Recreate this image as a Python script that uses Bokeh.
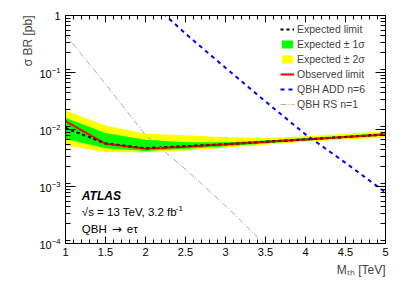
import numpy as np
from bokeh.plotting import figure
from bokeh.models import (Legend, LegendItem, Label, LinearAxis, LogAxis, Title,
                          FixedTicker, LogTicker, Range1d, CustomJSTickFormatter)
from bokeh.embed import file_html
from bokeh.resources import INLINE

# ---------------- data ----------------
mass = [1.0, 1.5, 2.0, 2.5, 3.0, 3.5, 4.0, 4.5, 5.0]  # TeV
observed = [0.0140, 0.0056, 0.0046, 0.0050, 0.0055, 0.0061, 0.0067, 0.0074, 0.0082]
expected = [0.0106, 0.0057, 0.0047, 0.0051, 0.0055, 0.0061, 0.0067, 0.0074, 0.0082]
exp_1s_up = [0.0160, 0.0087, 0.0066, 0.0060, 0.0060, 0.0064, 0.0071, 0.0078, 0.0087]
exp_1s_dn = [0.0068, 0.0047, 0.0042, 0.0046, 0.0051, 0.0057, 0.0064, 0.0071, 0.0078]
exp_2s_up = [0.0215, 0.0118, 0.0084, 0.0079, 0.0073, 0.0071, 0.0076, 0.0084, 0.0093]
exp_2s_dn = [0.0053, 0.0040, 0.0040, 0.0043, 0.0048, 0.0054, 0.0061, 0.0067, 0.0072]

add_mass = [2.0, 2.5, 3.0, 3.5, 4.0, 4.5, 5.0]
add_xsec = [2.1, 0.48, 0.121, 0.031, 0.0082, 0.0026, 0.00079]

rs_mass = [1.0, 1.5, 2.0, 2.5, 3.0, 3.5]
rs_xsec = [0.46, 0.063, 0.0080, 0.0020, 0.00046, 0.000095]

x_ticks = [1.0, 1.5, 2.0, 2.5, 3.0, 3.5, 4.0, 4.5, 5.0]
x_tick_labels = ["1", "1.5", "2", "2.5", "3", "3.5", "4", "4.5", "5"]

FONT = "Liberation Sans"

p = figure(width=398, height=284,
           x_range=Range1d(1, 5), y_range=Range1d(1e-4, 1),
           y_axis_type="log", output_backend="svg", toolbar_location=None,
           min_border_left=65, min_border_right=13, min_border_top=15,
           min_border_bottom=41)
p.grid.visible = False
p.outline_line_color = "black"
p.outline_line_width = 1
p.background_fill_color = "white"
p.border_fill_color = "white"

# bands and curves
r2 = p.varea(x=mass, y1=exp_2s_dn, y2=exp_2s_up, fill_color="#ffff00")
r1 = p.varea(x=mass, y1=exp_1s_dn, y2=exp_1s_up, fill_color="#00ff00")
rexp = p.line(mass, expected, line_color="black", line_width=2, line_dash="3 3")
robs = p.line(mass, observed, line_color="#ff0000", line_width=2)
p.line(mass, expected, line_color="black", line_width=2, line_dash="3 3", line_alpha=0.6)
radd = p.line(add_mass, add_xsec, line_color="#0000ff", line_width=2, line_dash="4 4")
rrs = p.line(rs_mass, rs_xsec, line_color="#aaaaaa", line_width=1, line_dash="6 2 1 2")

# axes
minor_x = [round(1 + 0.1 * i, 2) for i in range(41)]
xax = p.xaxis[0]
xax.ticker = FixedTicker(ticks=x_ticks, minor_ticks=minor_x)
xax.major_label_overrides = {t: l for t, l in zip([1, 1.5, 2, 2.5, 3, 3.5, 4, 4.5, 5], x_tick_labels)}
yax = p.yaxis[0]
yax.ticker = LogTicker(num_minor_ticks=9)
yax.major_label_overrides = {1: "1"}

for ax in (xax, yax):
    ax.major_tick_out = 0
    ax.minor_tick_out = 0
    ax.axis_line_color = "black"
    ax.major_tick_line_color = "black"
    ax.minor_tick_line_color = "black"
    ax.major_label_text_font = FONT
    ax.major_label_text_font_size = "11px"
    ax.major_label_text_color = "black"
xax.major_tick_in = 7
xax.minor_tick_in = 4
xax.major_label_standoff = 4
yax.major_tick_in = 10
yax.minor_tick_in = 5
yax.major_label_standoff = 5

blank = CustomJSTickFormatter(code="return ''")
top = LinearAxis(ticker=FixedTicker(ticks=x_ticks, minor_ticks=minor_x), formatter=blank,
                 major_tick_in=7, minor_tick_in=4, major_tick_out=0, minor_tick_out=0,
                 major_label_standoff=0, axis_line_color="black")
right = LogAxis(ticker=LogTicker(num_minor_ticks=9), formatter=blank,
                major_tick_in=10, minor_tick_in=5, major_tick_out=0, minor_tick_out=0,
                major_label_standoff=0, axis_line_color="black")
p.add_layout(top, "above")
p.add_layout(right, "right")

# axis titles, aligned to the axis ends (ROOT style)
p.add_layout(Title(text="\u03c3 BR [pb]", align="right", text_font=FONT,
                   text_font_size="12px", text_font_style="normal", standoff=4), "left")
p.add_layout(Title(text="M\u209c\u2095 [TeV]", align="right", text_font=FONT,
                   text_font_size="12px", text_font_style="normal", standoff=4), "below")

# legend
legend = Legend(items=[
    LegendItem(label="Expected limit", renderers=[rexp]),
    LegendItem(label="Expected \u00b1 1\u03c3", renderers=[r1]),
    LegendItem(label="Expected \u00b1 2\u03c3", renderers=[r2]),
    LegendItem(label="Observed limit", renderers=[robs]),
    LegendItem(label="QBH ADD n=6", renderers=[radd]),
    LegendItem(label="QBH RS n=1", renderers=[rrs]),
], location=(215, 133), background_fill_alpha=0, border_line_alpha=0,
    label_text_font=FONT, label_text_font_size="10.5px",
    glyph_width=14, glyph_height=10, label_height=10, spacing=3,
    label_standoff=3, padding=0, margin=0)
p.add_layout(legend, "center")

# texts
def lab(x, y, text, size="11.5px", style="normal", font=FONT, **kw):
    l = Label(x=x, y=y, text=text, text_font=font, text_font_size=size,
              text_font_style=style, text_color="black", text_baseline="middle", **kw)
    p.add_layout(l)
    return l

lab(1.204, 6.9e-4, "ATLAS", style="bold italic", size="12px")
lab(1.204, 3.5e-4, "\u221as = 13 TeV, 3.2 fb")
lab(1.204, 3.5e-4, "-1", size="8px", x_offset=94, y_offset=4)
lab(1.204, 1.83e-4, "QBH")
lab(1.204, 1.83e-4, "\u2192", size="12px", font="DejaVu Sans", x_offset=30)
lab(1.204, 1.83e-4, "e\u03c4", x_offset=45)

open("out.html", "w").write(file_html(p, INLINE))
